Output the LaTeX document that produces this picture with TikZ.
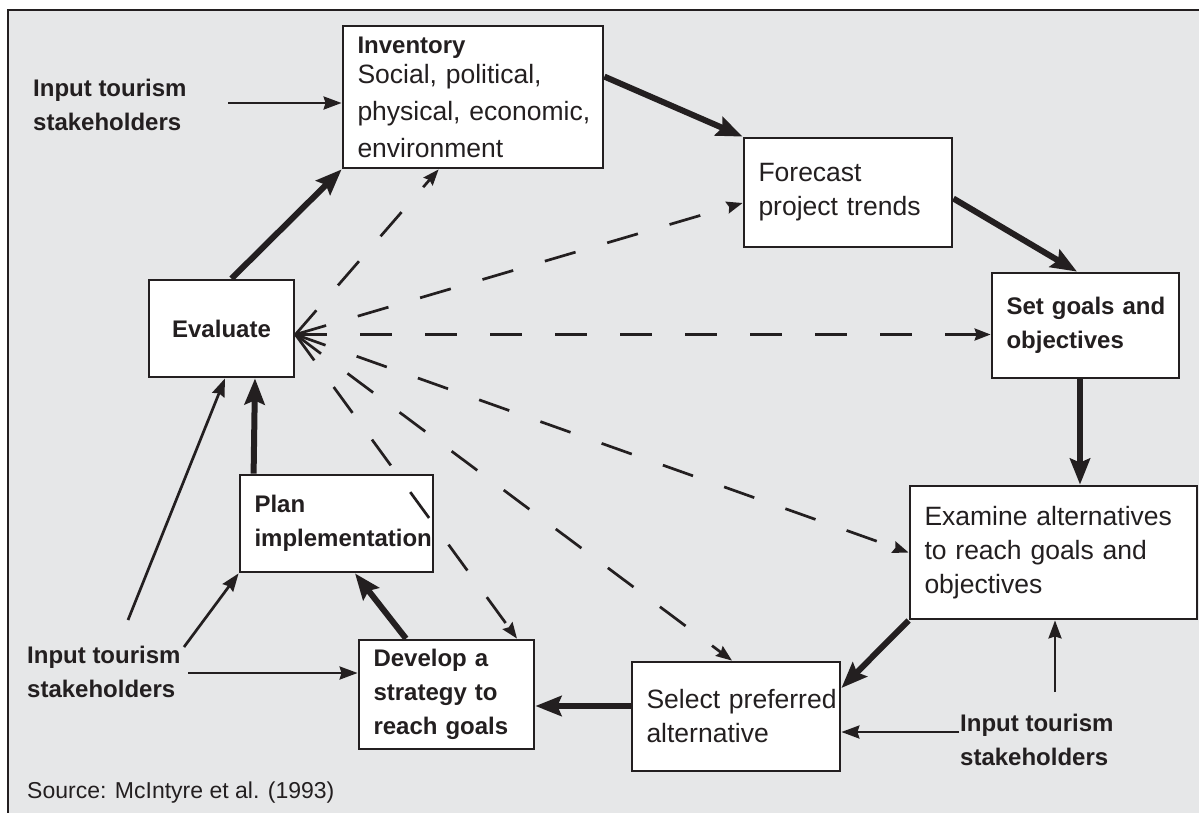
\documentclass[tikz,border=0pt]{standalone}
\usepackage{fontspec}
\setmainfont{Liberation Sans}
\usetikzlibrary{arrows.meta,calc}
\definecolor{ink}{HTML}{231F20}
\definecolor{bggray}{HTML}{E6E7E8}
\hyphenpenalty=10000
\exhyphenpenalty=10000
\tikzset{
  box/.style={draw=ink, line width=2.8pt, fill=white, inner xsep=14.5pt, inner ysep=0pt, align=left, anchor=center, text=ink},
  regtxt/.style={font=\fontsize{26.5}{34}\selectfont},
  boldtxt/.style={font=\bfseries\fontsize{24}{34}\selectfont},
  heavyarrow/.style={draw=ink, line width=6pt, -{Stealth[length=26pt,width=20pt,inset=4pt]}},
  thinarrow/.style={draw=ink, line width=2.7pt, -{Stealth[length=18pt,width=13pt,inset=2pt]}},
  dasharrow/.style={draw=ink, line width=2.7pt, dash pattern=on 32pt off 33pt, -{Stealth[length=16pt,width=12pt,inset=2pt]}},
  freetext/.style={text=ink, inner sep=0pt, anchor=west, align=left},
}
\begin{document}
\begin{tikzpicture}[x=1pt,y=-1pt]
\useasboundingbox (0,0) rectangle (1199,812);
\fill[white] (0,0) rectangle (1199,812);
\draw[draw=ink, line width=2.6pt, fill=bggray] (8,10) rectangle (1215,830);

% boxes
\node[box, font=\fontsize{26.5}{37}\selectfont, minimum width=260pt, minimum height=142pt, text width=231pt] (inv) at (473,97)
  {\mbox{\bfseries\fontsize{24}{34}\selectfont Inventory}\\[-7pt]\mbox{Social, political,}\\\mbox{physical, economic,}\\\mbox{environment}};
\node[box, regtxt, minimum width=208pt, minimum height=109pt, text width=179pt] (fore) at (848,192.5)
  {\mbox{Forecast}\\\mbox{project trends}};
\node[box, boldtxt, minimum width=187pt, minimum height=105pt, text width=158pt] (goals) at (1085.5,325.5)
  {\mbox{Set goals and}\\\mbox{objectives}};
\node[box, regtxt, minimum width=287pt, minimum height=133pt, text width=258pt] (exam) at (1053.5,552.5)
  {\mbox{Examine alternatives}\\\mbox{to reach goals and}\\\mbox{objectives}};
\node[box, regtxt, minimum width=208pt, minimum height=109pt, text width=179pt] (sel) at (736,716.5)
  {\mbox{Select preferred}\\\mbox{alternative}};
\node[box, boldtxt, minimum width=175pt, minimum height=109pt, text width=146pt] (dev) at (446.5,694.5)
  {\mbox{Develop a}\\\mbox{strategy to}\\\mbox{reach goals}};
\node[box, boldtxt, minimum width=193pt, minimum height=97pt, text width=164pt] (plan) at (336.5,523.5)
  {\mbox{Plan}\\\mbox{implementation}};
\node[box, boldtxt, align=center, inner xsep=0pt, minimum width=145pt, minimum height=97pt] (eval) at (221.5,328.5)
  {Evaluate};

% heavy arrows (main cycle)
\draw[heavyarrow] ($(eval.north)+(10,0)$) -- (inv.south west);
\draw[heavyarrow] ($(inv.north east)+(0,52)$) -- (fore.north west);
\draw[heavyarrow] ($(fore.east)+(0,6)$) -- ($(goals.north)+(-8.5,0)$);
\draw[heavyarrow] ($(goals.south)+(-5.5,0)$) -- ($(exam.north)+(26.5,0)$);
\draw[heavyarrow] (exam.south west) -- ($(sel.east)+(0,-28.5)$);
\draw[heavyarrow] ($(sel.west)+(0,-10.5)$) -- ($(dev.east)+(0,11.5)$);
\draw[heavyarrow] ($(dev.north)+(-40.5,0)$) -- ($(plan.south)+(18.5,0)$);
\draw[heavyarrow] ($(plan.north west)+(15,0)$) -- ($(eval.south)+(33.5,0)$);

% dashed feedback arrows from Evaluate
\coordinate (fan) at ($(eval.east)+(0,6)$);
\draw[dasharrow] (fan) -- ($(inv.south west)+(97,0)$);
\draw[dasharrow] (fan) -- ($(fore.west)+(0,10.5)$);
\draw[dasharrow] (fan) -- (fan -| goals.west);
\draw[dasharrow] (fan) -- (exam.west);
\draw[dasharrow] (fan) -- ($(sel.north)+(-4,0)$);
\draw[dasharrow] (fan) -- ($(dev.north)+(70.5,0)$);

% stakeholder inputs
\node[freetext, boldtxt] (in1) at (33,105) {Input tourism\\stakeholders};
\node[freetext, boldtxt] (in2) at (27,672) {Input tourism\\stakeholders};
\node[freetext, boldtxt] (in3) at (960,740) {Input tourism\\stakeholders};
\node[freetext, font=\fontsize{23}{28}\selectfont] (src) at (27,793) {Source: McIntyre et al. (1993)};

\coordinate (i1a) at (228,103);
\draw[thinarrow] (i1a) -- (i1a -| inv.west);
\coordinate (i2a) at (128,620);
\draw[thinarrow] (i2a) -- ($(eval.south)+(3.5,0)$);
\coordinate (i2b) at (184,647);
\draw[thinarrow] (i2b) -- (plan.south west);
\coordinate (i2c) at (188,673);
\draw[thinarrow] (i2c) -- (i2c -| dev.west);
\coordinate (i3a) at (1055,692);
\draw[thinarrow] (i3a) -- (i3a |- exam.south);
\coordinate (i3b) at (959,732);
\draw[thinarrow] (i3b) -- (i3b -| sel.east);
\end{tikzpicture}
\end{document}
